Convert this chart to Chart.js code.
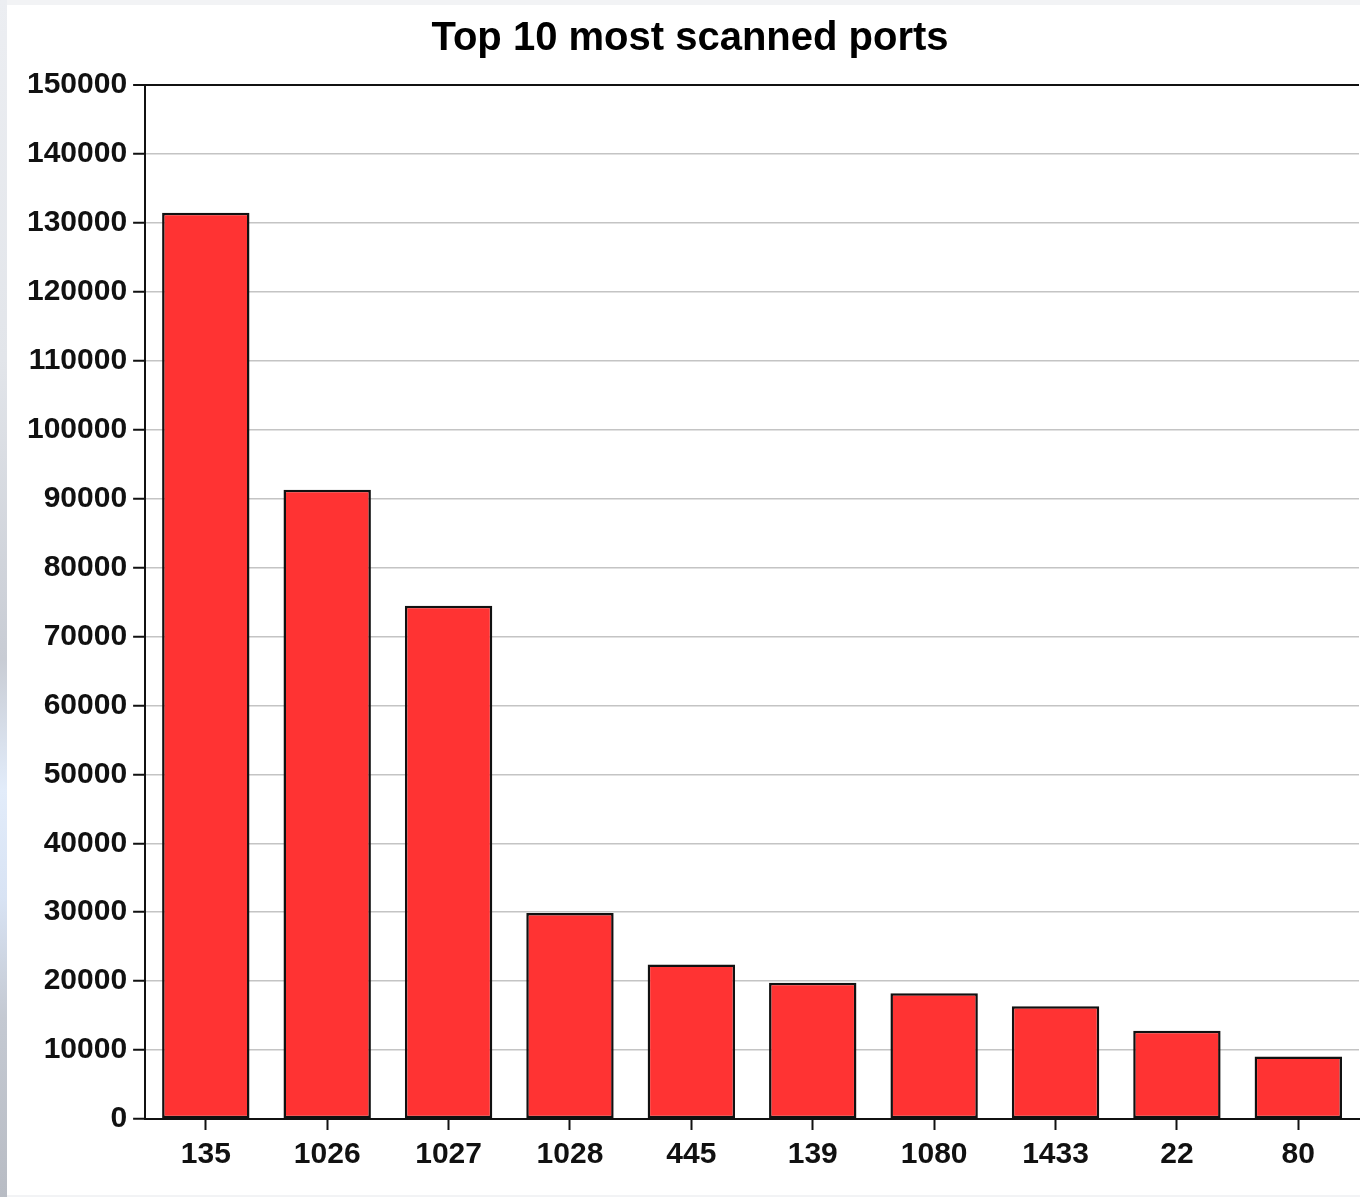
<!DOCTYPE html>
<html>
<head>
<meta charset="utf-8">
<script src="https://cdn.jsdelivr.net/npm/chart.js@4"></script>
<style>
  html, body { margin: 0; padding: 0; width: 1360px; height: 1197px; overflow: hidden; }
  body {
    position: relative;
    background: #f2f3f5;
  }
  #strip {
    position: absolute; left: 0; top: 0; width: 7px; height: 1197px;
    background: linear-gradient(to bottom, #eceef2 0%, #e2e5ea 30%, #c8ccd4 55%, #e2ecfa 66%, #d8e3f4 75%, #c4c9d2 85%, #b8bcc4 100%);
  }
  #box {
    position: absolute; left: 7px; top: 5px; width: 1365px; height: 1190px;
    background: #fff;
  }
</style>
</head>
<body>
<div id="strip"></div>
<div id="box"><canvas id="chart-ports"></canvas></div>
<script>
// ─── dados ──────────────────────────────────
const ports = ['135', '1026', '1027', '1028', '445', '139', '1080', '1433', '22', '80'];
const scans = [131450, 91300, 74450, 29900, 22400, 19750, 18250, 16350, 12800, 9050];
const yTicks = [0, 10000, 20000, 30000, 40000, 50000, 60000, 70000, 80000,
  90000, 100000, 110000, 120000, 130000, 140000, 150000];

const FONT = "'Liberation Sans', Arial, Helvetica, sans-serif";

Chart.defaults.font.family = FONT;
Chart.defaults.color = '#111';

new Chart(document.getElementById('chart-ports'), {
  type: 'bar',
  data: {
    labels: ports,
    datasets: [{
      data: scans,
      backgroundColor: '#ff3333',
      borderColor: '#111',
      borderWidth: 2.5,
      borderSkipped: false,
      barPercentage: 0.72,
      categoryPercentage: 1
    }]
  },
  options: {
    responsive: true,
    maintainAspectRatio: false,
    animation: false,
    layout: { padding: { left: 14, right: 13, top: 0, bottom: 15 } },
    plugins: {
      legend: { display: false },
      tooltip: { enabled: false },
      title: {
        display: true,
        text: 'Top 10 most scanned ports',
        color: '#000',
        font: { size: 40, weight: 'bold', family: FONT },
        padding: { top: 10, bottom: 22 }
      }
    },
    scales: {
      x: {
        offset: true,
        grid: {
          offset: false,
          drawOnChartArea: false,
          drawTicks: true,
          tickLength: 11,
          tickColor: '#111',
          tickWidth: 2
        },
        border: { color: '#111', width: 2 },
        ticks: {
          color: '#111',
          padding: 7,
          font: { size: 30, weight: 'bold' },
          maxRotation: 0,
          autoSkip: false
        }
      },
      y: {
        min: 0,
        max: 150000,
        afterBuildTicks: axis => { axis.ticks = yTicks.map(v => ({ value: v })); },
        grid: {
          color: ctx => (ctx.tick && ctx.tick.value === 150000 ? '#111' : '#c4c4c4'),
          lineWidth: ctx => (ctx.tick && ctx.tick.value === 150000 ? 2 : 1.5),
          tickLength: 12,
          tickColor: '#111',
          tickWidth: 2
        },
        border: { color: '#111', width: 2 },
        ticks: {
          color: '#111',
          padding: 6,
          font: { size: 30, weight: 'bold' },
          callback: v => String(v)
        }
      }
    }
  }
});
</script>
</body>
</html>
